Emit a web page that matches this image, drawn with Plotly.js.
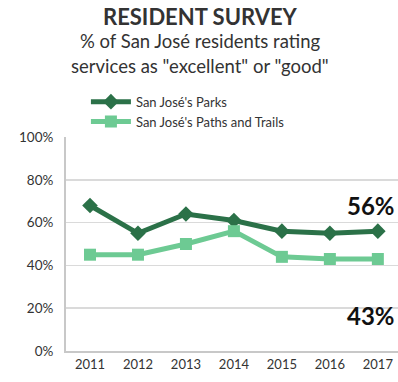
<!DOCTYPE html>
<html>
<head>
<meta charset="utf-8">
<script src="https://cdn.plot.ly/plotly-3.0.1.min.js"></script>
<style>html,body{margin:0;padding:0;background:#fff;}#chart{width:398px;height:382px;}</style>
</head>
<body>
<div id="chart"></div>
<script>
var years = ["2011","2012","2013","2014","2015","2016","2017"];
var parks = [68, 55, 64, 61, 56, 55, 56];
var trails = [45, 45, 50, 56, 44, 43, 43];
var seriesNames = ["San José's Parks", "San José's Paths and Trails"];
var yTicks = [0, 20, 40, 60, 80, 100];
var yTickLabels = ["0%", "20%", "40%", "60%", "80%", "100%"];
var endLabels = ["56%", "43%"];

var font = "Lato, 'Open Sans', sans-serif";
var data = [
  {x: years, y: parks, name: seriesNames[0], type: "scatter", mode: "lines+markers",
   line: {color: "#2B7148", width: 5}, marker: {symbol: "diamond", size: 12, color: "#2B7148"}},
  {x: years, y: trails, name: seriesNames[1], type: "scatter", mode: "lines+markers",
   line: {color: "#6DCA93", width: 5}, marker: {symbol: "square", size: 12, color: "#6DCA93"}}
];
var layout = {
  width: 398, height: 382,
  margin: {l: 66, r: 0, t: 137, b: 31},
  paper_bgcolor: "#fff", plot_bgcolor: "#fff",
  font: {family: font, color: "#333", size: 13},
  showlegend: true,
  legend: {x: 0.06, y: 1.235, xanchor: "left", yanchor: "top", bgcolor: "rgba(0,0,0,0)",
           font: {family: font, size: 13, color: "#333"}, tracegroupgap: 0, itemwidth: 40},
  xaxis: {type: "category", range: [-0.5, 6.42], showgrid: false, showline: true,
          linecolor: "#c8c8c8", linewidth: 2, ticks: "", tickfont: {size: 13, color: "#333"},
          fixedrange: true},
  yaxis: {range: [0, 100], tickvals: yTicks, ticktext: yTickLabels, showgrid: true,
          gridcolor: "#dadada", gridwidth: 1.5, showline: true, linecolor: "#c8c8c8", linewidth: 2,
          zeroline: false, ticks: "", ticklabelstandoff: 8, tickfont: {size: 13.5, color: "#333"}},
  annotations: [
    {text: "<b>RESIDENT SURVEY</b>", xref: "paper", yref: "paper", x: 0.405, y: (351 - 16) / 214,
     xanchor: "center", yanchor: "middle", showarrow: false, font: {size: 22, color: "#333", family: font, weight: 900}},
    {text: "% of San José residents rating", xref: "paper", yref: "paper", x: 0.405, y: (351 - 41) / 214,
     xanchor: "center", yanchor: "middle", showarrow: false, font: {size: 18.5, color: "#333", family: font}},
    {text: "services as \"excellent\" or \"good\"", xref: "paper", yref: "paper", x: 0.405, y: (351 - 66) / 214,
     xanchor: "center", yanchor: "middle", showarrow: false, font: {size: 18.5, color: "#333", family: font}},
    {text: "<b>" + endLabels[0] + "</b>", xref: "paper", yref: "paper", x: 0.998, y: (351 - 205) / 214,
     xanchor: "right", yanchor: "middle", showarrow: false, font: {size: 24, color: "#111", family: font, weight: 900}},
    {text: "<b>" + endLabels[1] + "</b>", xref: "paper", yref: "paper", x: 0.998, y: (351 - 315) / 214,
     xanchor: "right", yanchor: "middle", showarrow: false, font: {size: 24, color: "#111", family: font, weight: 900}}
  ]
};
Plotly.newPlot("chart", data, layout, {displayModeBar: false, staticPlot: true});
</script>
</body>
</html>
